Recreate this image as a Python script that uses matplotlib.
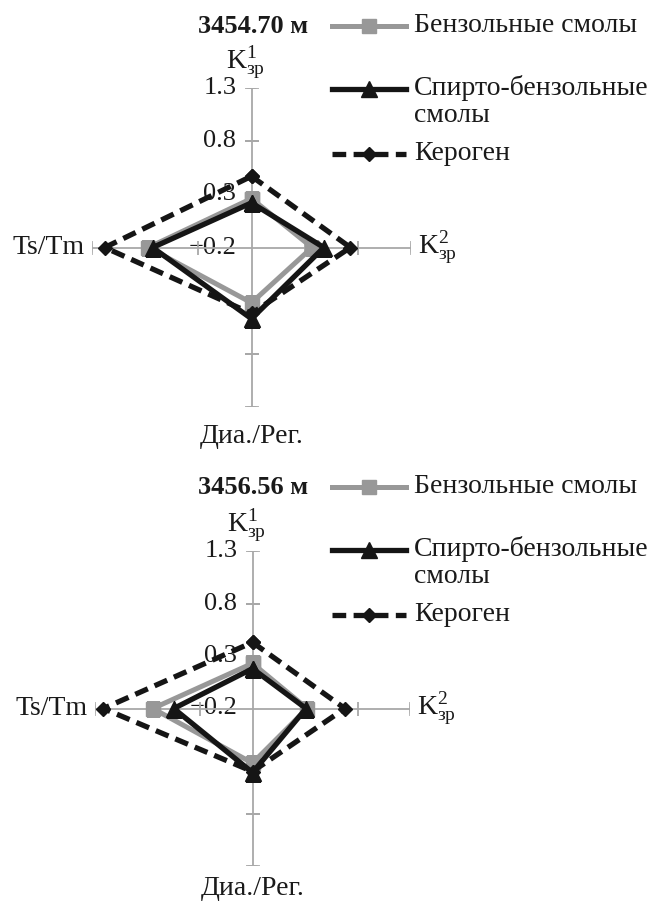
# %% 0 - import libraries
import numpy as np
import matplotlib.pyplot as plt
from matplotlib.lines import Line2D

plt.rcParams["font.family"] = ["Liberation Serif", "DejaVu Serif"]
plt.rcParams["mathtext.fontset"] = "custom"
plt.rcParams["mathtext.rm"] = "Liberation Serif"
plt.rcParams["mathtext.it"] = "Liberation Serif:italic"
plt.rcParams["mathtext.bf"] = "Liberation Serif:bold"


# %% 1 - data
categories = [r"$\mathrm{K}^{1}_{\mathrm{зр}}$", r"$\mathrm{K}^{2}_{\mathrm{зр}}$", "Диа./Рег.", "Ts/Tm"]
series     = ["Бензольные смолы", "Спирто-бензольные\nсмолы", "Кероген"]
depths     = ["3454.70 м", "3456.56 м"]

r_ticks    = [-0.2, 0.3, 0.8, 1.3]
tick_text  = ["\u22120.2", "0.3", "0.8", "1.3"]

# values per category: K1, K2, Dia/Reg, Ts/Tm
benz_1  = [0.26, 0.37, 0.32, 0.77]
spirt_1 = [0.22, 0.48, 0.47, 0.73]
ker_1   = [0.47, 0.73, 0.42, 1.18]

benz_2  = [0.23, 0.32, 0.32, 0.75]
spirt_2 = [0.18, 0.31, 0.41, 0.55]
ker_2   = [0.43, 0.68, 0.40, 1.22]


# %% 2 - styles
styles = [
    dict(color = "#989898", lw = 3.6, marker = "s", ms = 9.5, ls = "-"),
    dict(color = "#151515", lw = 3.8, marker = "^", ms = 11, ls = "-"),
    dict(color = "#151515", lw = 3.8, marker = "D", ms = 7.5, ls = (0, (2.6, 1.4))),
]
axis_grey  = "#a8a8a8"
text_col   = "#1a1a1a"
draw_order = [2, 0, 1]

theta = np.arange(4) * np.pi / 2


# %% 3 - plot
fig = plt.figure(figsize = (6.56, 9.01), dpi = 100)
W, H = 656, 901

panels = [
    (depths[0], [benz_1, spirt_1, ker_1], (251.5, 247.5, 159.5), -12),
    (depths[1], [benz_2, spirt_2, ker_2], (252.5, 708.5, 157.5), -7),
]

for depth, data, (cx, cy, rad), bottom_off in panels:
    ax = fig.add_axes([(cx - rad) / W, 1 - (cy + rad) / H, 2 * rad / W, 2 * rad / H], projection = "polar")
    ax.set_theta_zero_location("N")
    ax.set_theta_direction(-1)
    ax.set_ylim(r_ticks[0], r_ticks[-1])
    ax.grid(False)
    ax.set_xticks([])
    ax.set_yticks([])
    ax.spines["polar"].set_visible(False)
    ax.patch.set_visible(False)

    # axes lines + tick marks
    for k, t in enumerate(theta):
        ax.plot([t, t], [r_ticks[0], r_ticks[-1]], color = axis_grey, lw = 1.3, zorder = 1)
        mk = "_" if k % 2 == 0 else "|"
        ax.plot([t] * 3, r_ticks[1:], ls = "none", marker = mk, ms = 10, mew = 1.3, color = axis_grey, zorder = 1)

    # tick labels on first axis
    for r, s in zip(r_ticks, tick_text):
        ax.annotate(s, xy = (0, r), xytext = (-11, 0), textcoords = "offset points",
                    ha = "right", va = "center", fontsize = 19, color = text_col, zorder = 0)

    # category labels
    ax.annotate(categories[0], xy = (theta[0], r_ticks[-1]), xytext = (-4, 5), textcoords = "offset points",
                ha = "center", va = "bottom", fontsize = 20, color = text_col)
    ax.annotate(categories[1], xy = (theta[1], r_ticks[-1]), xytext = (5, 0), textcoords = "offset points",
                ha = "left", va = "center", fontsize = 20, color = text_col)
    ax.annotate(categories[2], xy = (theta[2], r_ticks[-1]), xytext = (0, bottom_off), textcoords = "offset points",
                ha = "center", va = "top", fontsize = 20, color = text_col)
    ax.annotate(categories[3], xy = (theta[3], r_ticks[-1]), xytext = (-5, 0), textcoords = "offset points",
                ha = "right", va = "center", fontsize = 20, color = text_col)

    # series
    tt = np.append(theta, theta[0])
    for i in draw_order:
        vals = data[i] + data[i][:1]
        ax.plot(tt, vals, zorder = 3 + i, **styles[i])

    # title
    fig.text(308 / W, 1 - (cy - 221) / H, depth, ha = "right", va = "center", fontsize = 19,
             fontweight = "bold", color = text_col)

    # legend drawn by hand
    leg_y = [cy - 222, cy - 159, cy - 94]
    for i, ly in enumerate(leg_y):
        y = 1 - ly / H
        st = styles[i]
        fig.add_artist(Line2D([332 / W, 406 / W], [y, y], color = st["color"], lw = st["lw"], ls = st["ls"]))
        fig.add_artist(Line2D([369 / W], [y], marker = st["marker"], ms = st["ms"], color = st["color"], ls = "none"))
        if "\n" in series[i]:
            fig.text(414 / W, y + 14 / H, series[i], ha = "left", va = "top", fontsize = 20,
                     color = text_col, linespacing = 1.12)
        else:
            fig.text(414 / W, y, series[i], ha = "left", va = "center", fontsize = 20, color = text_col)

fig.savefig("out.png", dpi = 100)
